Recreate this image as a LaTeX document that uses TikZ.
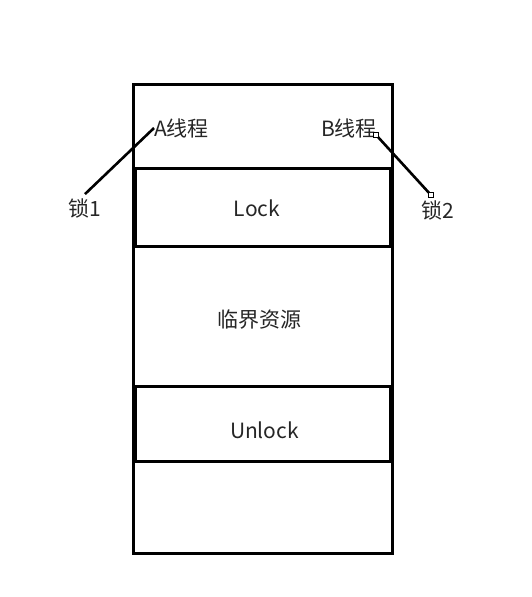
\documentclass[tikz,border=0pt]{standalone}
\usepackage{fontspec}
\setmainfont{Noto Sans CJK SC}
\usepackage{tikz}
\usetikzlibrary{calc,positioning}

\begin{document}
\begin{tikzpicture}[
  x=1pt,y=-1pt,
  every node/.style={font=\fontsize{21}{25}\selectfont,text=black!85},
  frame/.style={draw=black,line width=3pt,minimum width=259pt,minimum height=469pt,inner sep=0pt},
  lockbox/.style={draw=black,line width=3pt,minimum width=255pt,inner sep=0pt},
  lbl/.style={inner sep=0pt},
  link/.style={draw=black,line width=2.6pt},
  handle/.style={draw=black,fill=white,line width=0.9pt,minimum size=5.5pt,inner sep=0pt},
]
\useasboundingbox (0,0) rectangle (531,597);
\node[frame] (stack) at (262.5,318.5) {};
\node[lockbox,minimum height=78pt] (lock) at (262.5,207) {};
\node[lockbox,minimum height=75pt] (unlock) at (262.5,423.5) {};
\node[lbl] (locktxt) at (257,208) {Lock};
\node[lbl] (unlocktxt) at (264.5,430) {Unlock};
\node[lbl] (crit) at (259.5,320) {临界资源};

\node[lbl,anchor=west] (threadA) at (154,128) {A线程};
\node[lbl,anchor=east] (threadB) at (377,128) {B线程};
\node[lbl,inner sep=4pt] (lock1) at (85,208) {锁1};
\node[lbl,inner sep=4pt] (lock2) at (438,210) {锁2};

\draw[link] (lock1.north) -- (threadA.west);
\draw[link] ($(threadB.south east)+(-1,-3)$) -- ($(lock2.north)+(-7,-1)$)
  node[pos=0,handle] {} node[pos=1,handle] {};
\end{tikzpicture}
\end{document}
